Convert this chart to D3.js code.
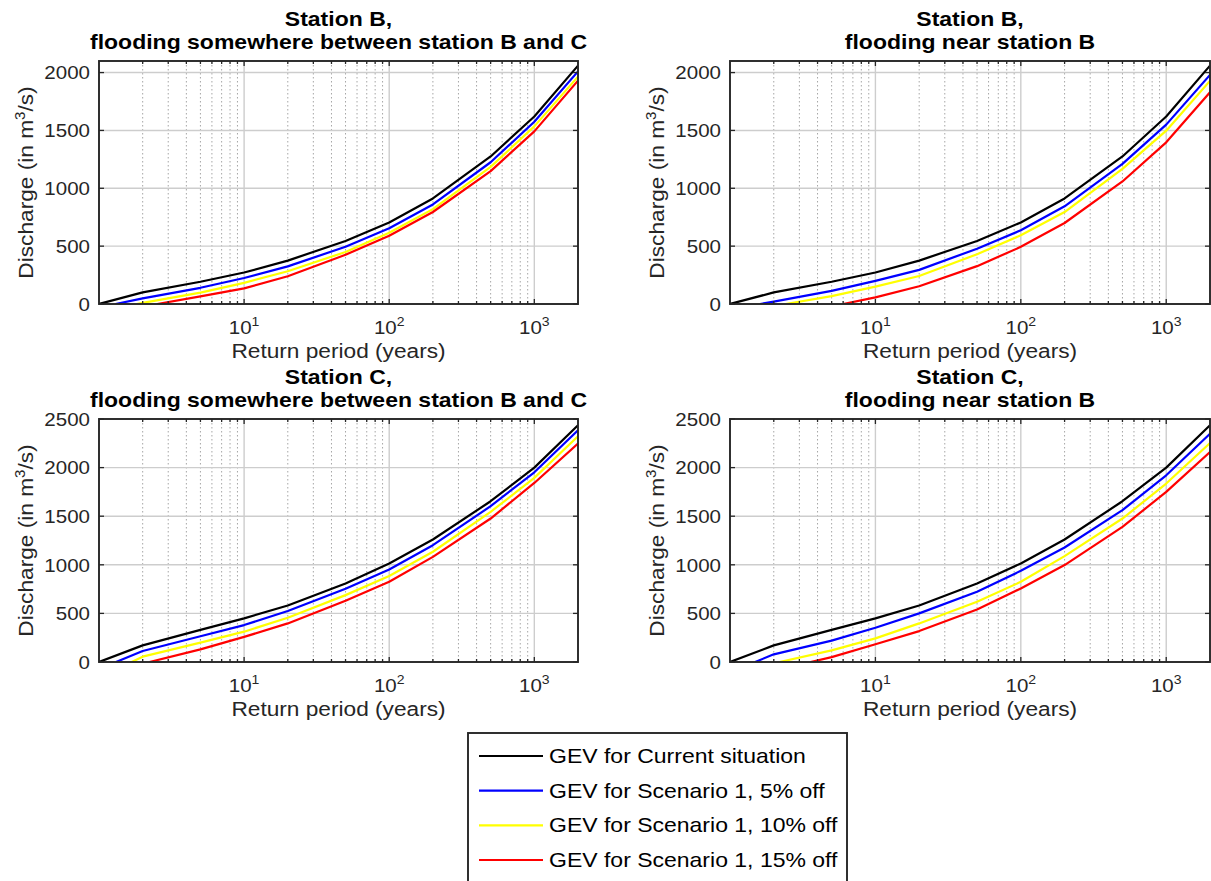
<!DOCTYPE html>
<html>
<head>
<meta charset="utf-8">
<script src="https://cdn.jsdelivr.net/npm/d3@7"></script>
<style>
  html, body { margin: 0; padding: 0; background: #fff; }
  svg { display: block; font-family: "Liberation Sans", Arial, Helvetica, sans-serif; }
</style>
</head>
<body>
<svg id="chart" width="1211" height="881"></svg>
<script>
// ---- Data ---------------------------------------------------------------
const returnPeriods = [2, 5, 10, 20, 50, 100, 200, 500, 1000, 2000];
const xTickValues = [10, 100, 1000];
const yTicksStationB = [0, 500, 1000, 1500, 2000];
const yTicksStationC = [0, 500, 1000, 1500, 2000, 2500];

const seriesLabels = [
  "GEV for Current situation",
  "GEV for Scenario 1, 5% off",
  "GEV for Scenario 1, 10% off",
  "GEV for Scenario 1, 15% off"
];
const seriesColors = ["#000000", "#0000ff", "#ffff00", "#ff0000"];

const panelTitles = [
  ["Station B,", "flooding somewhere between station B and C"],
  ["Station B,", "flooding near station B"],
  ["Station C,", "flooding somewhere between station B and C"],
  ["Station C,", "flooding near station B"]
];

// Return period (years) at which each curve rises from zero discharge
const zeroB_between = [1, 1.30, 1.82, 2.52];
const zeroB_near    = [1, 1.61, 2.41, 6.0];
const zeroC_between = [1, 1.31, 1.68, 2.23];
const zeroC_near    = [1, 1.49, 2.19, 3.59];

// Discharge (m3/s) at each return period; null = still below zero there
const bBetweenCurrent = [100, 192, 272, 375, 545, 705, 912, 1275, 1620, 2060];
const bBetween5       = [48, 140, 225, 325, 495, 655, 860, 1225, 1575, 2010];
const bBetween10      = [10, 98, 183, 283, 450, 615, 820, 1185, 1535, 1965];
const bBetween15      = [null, 66, 135, 240, 425, 590, 795, 1148, 1492, 1930];

const bNearCurrent = [100, 192, 272, 375, 545, 705, 912, 1275, 1620, 2060];
const bNear5       = [20, 113, 200, 295, 478, 637, 844, 1211, 1550, 1980];
const bNear10      = [null, 68, 150, 242, 430, 594, 795, 1168, 1498, 1928];
const bNear15      = [null, null, 57, 153, 327, 494, 700, 1059, 1397, 1830];

const cBetweenCurrent = [171, 330, 449, 582, 808, 1014, 1260, 1654, 2000, 2435];
const cBetween5       = [113, 265, 380, 524, 753, 952, 1202, 1603, 1952, 2384];
const cBetween10      = [55, 200, 312, 455, 688, 884, 1134, 1545, 1894, 2322];
const cBetween15      = [null, 130, 258, 397, 630, 825, 1082, 1476, 1842, 2247];

const cNearCurrent = [171, 330, 449, 582, 808, 1014, 1260, 1654, 2000, 2435];
const cNear5       = [79, 220, 353, 500, 723, 938, 1178, 1562, 1921, 2349];
const cNear10      = [null, 120, 243, 397, 620, 825, 1089, 1476, 1836, 2253];
const cNear15      = [null, 50, 182, 318, 541, 757, 997, 1390, 1750, 2161];

const panelSeries = [
  [bBetweenCurrent, bBetween5, bBetween10, bBetween15],
  [bNearCurrent, bNear5, bNear10, bNear15],
  [cBetweenCurrent, cBetween5, cBetween10, cBetween15],
  [cNearCurrent, cNear5, cNear10, cNear15]
];
const panelZeros = [zeroB_between, zeroB_near, zeroC_between, zeroC_near];
const panelYTicks = [yTicksStationB, yTicksStationB, yTicksStationC, yTicksStationC];
const panelYMax = [2100, 2100, 2500, 2500];

// ---- Layout -------------------------------------------------------------
const svg = d3.select("#chart");
const FONT_TICK = 19, FONT_LABEL = 21, FONT_TITLE = 20, FONT_LEGEND = 20;
const SX_TICK = 1.08, SX_LABEL = 1.08, SX_TITLE = 1.15, SX_LEGEND = 1.15;
const AXIS_COLOR = "#262626";

const columns = [{ left: 99, right: 578 }, { left: 730, right: 1210 }];
const rows = [{ top: 61, bottom: 304 }, { top: 419, bottom: 662 }];

function placeText(g, x, y, sx, rotate) {
  return g.append("text")
    .attr("transform", `translate(${x},${y})` + (rotate ? ` rotate(${rotate})` : "") + ` scale(${sx},1)`);
}

panelTitles.forEach((title, p) => {
  const col = columns[p % 2], row = rows[Math.floor(p / 2)];
  const x = d3.scaleLog().domain([1, 2000]).range([col.left, col.right]);
  const y = d3.scaleLinear().domain([0, panelYMax[p]]).range([row.bottom, row.top]);
  const g = svg.append("g");
  const cx = (col.left + col.right) / 2;

  const clipId = "clip" + p;
  g.append("clipPath").attr("id", clipId).append("rect")
    .attr("x", col.left).attr("y", row.top)
    .attr("width", col.right - col.left).attr("height", row.bottom - row.top);

  // minor vertical grid (dotted)
  const minorX = [];
  [1, 10, 100, 1000].forEach(dec => {
    for (let m = 2; m <= 9; m++) {
      const v = dec * m;
      if (v < 2000) minorX.push(v);
    }
  });
  g.append("g").selectAll("line").data(minorX).join("line")
    .attr("x1", d => x(d)).attr("x2", d => x(d))
    .attr("y1", row.top).attr("y2", row.bottom)
    .attr("stroke", "#a6a6a6").attr("stroke-width", 1)
    .attr("stroke-dasharray", "1.5,2.5");

  // major grid
  g.append("g").selectAll("line").data(xTickValues).join("line")
    .attr("x1", d => x(d)).attr("x2", d => x(d))
    .attr("y1", row.top).attr("y2", row.bottom)
    .attr("stroke", "#cdcdcd").attr("stroke-width", 1.4);
  g.append("g").selectAll("line").data(panelYTicks[p]).join("line")
    .attr("x1", col.left).attr("x2", col.right)
    .attr("y1", d => y(d)).attr("y2", d => y(d))
    .attr("stroke", "#cdcdcd").attr("stroke-width", 1.4);

  // curves
  const line = d3.line().x(d => x(d.T)).y(d => y(d.Q));
  const curves = g.append("g").attr("clip-path", `url(#${clipId})`);
  panelSeries[p].forEach((vals, s) => {
    const pts = [{ T: panelZeros[p][s], Q: 0 }]
      .concat(returnPeriods.map((T, i) => ({ T, Q: vals[i] })).filter(d => d.Q !== null));
    curves.append("path").datum(pts)
      .attr("d", line)
      .attr("fill", "none")
      .attr("stroke", seriesColors[s])
      .attr("stroke-width", 2.2)
      .attr("stroke-linejoin", "round");
  });

  // ticks (inward, all four sides)
  const tk = g.append("g").attr("stroke", AXIS_COLOR).attr("stroke-width", 1.3);
  minorX.forEach(v => {
    tk.append("line").attr("x1", x(v)).attr("x2", x(v)).attr("y1", row.bottom).attr("y2", row.bottom - 3);
    tk.append("line").attr("x1", x(v)).attr("x2", x(v)).attr("y1", row.top).attr("y2", row.top + 3);
  });
  xTickValues.forEach(v => {
    tk.append("line").attr("x1", x(v)).attr("x2", x(v)).attr("y1", row.bottom).attr("y2", row.bottom - 5);
    tk.append("line").attr("x1", x(v)).attr("x2", x(v)).attr("y1", row.top).attr("y2", row.top + 5);
  });
  panelYTicks[p].forEach(v => {
    tk.append("line").attr("x1", col.left).attr("x2", col.left + 5).attr("y1", y(v)).attr("y2", y(v));
    tk.append("line").attr("x1", col.right).attr("x2", col.right - 5).attr("y1", y(v)).attr("y2", y(v));
  });

  // box
  g.append("rect")
    .attr("x", col.left).attr("y", row.top)
    .attr("width", col.right - col.left).attr("height", row.bottom - row.top)
    .attr("fill", "none").attr("stroke", AXIS_COLOR).attr("stroke-width", 1.9);

  // y tick labels
  panelYTicks[p].forEach(v => {
    placeText(g, col.left - 9, y(v) + FONT_TICK * 0.36, SX_TICK)
      .attr("text-anchor", "end").attr("font-size", FONT_TICK).attr("fill", AXIS_COLOR)
      .text(v);
  });

  // x tick labels: 10^k
  xTickValues.forEach(v => {
    const t = placeText(g, x(v), row.bottom + 30, SX_TICK)
      .attr("text-anchor", "middle").attr("font-size", FONT_TICK).attr("fill", AXIS_COLOR);
    t.append("tspan").text("10");
    t.append("tspan").attr("dy", -8).attr("font-size", 13).text(Math.round(Math.log10(v)));
  });

  // axis labels
  placeText(g, cx, row.bottom + 54, SX_LABEL)
    .attr("text-anchor", "middle").attr("font-size", FONT_LABEL).attr("fill", AXIS_COLOR)
    .text("Return period (years)");

  const yl = placeText(g, col.left - 66, (row.top + row.bottom) / 2, SX_LABEL, -90)
    .attr("text-anchor", "middle").attr("font-size", FONT_LABEL).attr("fill", AXIS_COLOR);
  yl.append("tspan").text("Discharge (in m");
  yl.append("tspan").attr("dy", -8).attr("font-size", 14).text("3");
  yl.append("tspan").attr("dy", 8).text("/s)");

  // title
  placeText(g, cx, row.top - 35, SX_TITLE)
    .attr("text-anchor", "middle").attr("font-size", FONT_TITLE).attr("font-weight", "bold").attr("fill", "#000")
    .text(title[0]);
  placeText(g, cx, row.top - 12, SX_TITLE)
    .attr("text-anchor", "middle").attr("font-size", FONT_TITLE).attr("font-weight", "bold").attr("fill", "#000")
    .text(title[1]);
});

// ---- Legend -------------------------------------------------------------
const legend = svg.append("g");
legend.append("rect")
  .attr("x", 468).attr("y", 733).attr("width", 379).attr("height", 170)
  .attr("fill", "#fff").attr("stroke", AXIS_COLOR).attr("stroke-width", 1.9);
const legendY = d3.scalePoint().domain(seriesLabels).range([756, 860]);
seriesLabels.forEach((lab, s) => {
  const ly = legendY(lab);
  legend.append("line")
    .attr("x1", 479).attr("x2", 543).attr("y1", ly).attr("y2", ly)
    .attr("stroke", seriesColors[s]).attr("stroke-width", 2.2);
  placeText(legend, 549, ly + 7, SX_LEGEND)
    .attr("font-size", FONT_LEGEND).attr("fill", "#000").text(lab);
});
</script>
</body>
</html>
